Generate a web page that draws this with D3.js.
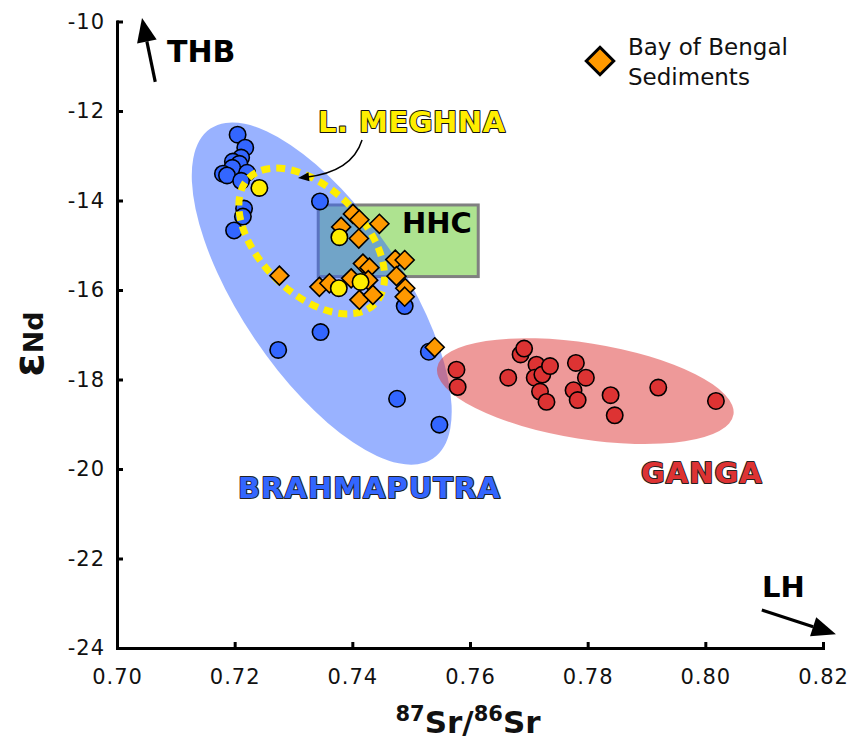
<!DOCTYPE html>
<html>
<head>
<meta charset="utf-8">
<script src="https://cdn.jsdelivr.net/npm/d3@7/dist/d3.min.js"></script>
<style>
  html, body { margin: 0; padding: 0; background: #fff; }
  svg { display: block; font-family: "DejaVu Sans", Verdana, sans-serif; }
</style>
</head>
<body>
<svg id="chart" width="851" height="742"></svg>
<script>
// ---- Data -----------------------------------------------------------------
// 87Sr/86Sr vs eNd for river and marine sediments

const xTicks = [0.70, 0.72, 0.74, 0.76, 0.78, 0.80, 0.82];
const yTicks = [-10, -12, -14, -16, -18, -20, -22, -24];

// Brahmaputra sediments [Sr, eNd]
const brahmaputra = [
  [0.7205, -12.53], [0.7218, -12.82], [0.7211, -13.04], [0.7197, -13.13],
  [0.7208, -13.18], [0.7196, -13.27], [0.7180, -13.40], [0.7187, -13.44],
  [0.7221, -13.38], [0.7211, -13.56], [0.7216, -14.18], [0.7214, -14.36],
  [0.7199, -14.67], [0.7345, -14.02], [0.7274, -17.34], [0.7346, -16.94],
  [0.7476, -18.43], [0.7548, -19.01], [0.7530, -17.38], [0.7489, -16.36]
];

// Ganga sediments
const ganga = [
  [0.7577, -17.78], [0.7579, -18.17], [0.7665, -17.96], [0.7686, -17.44],
  [0.7692, -17.31], [0.7713, -17.67], [0.7710, -17.96], [0.7723, -17.89],
  [0.7736, -17.70], [0.7719, -18.27], [0.7730, -18.50], [0.7780, -17.63],
  [0.7797, -17.96], [0.7776, -18.24], [0.7783, -18.46], [0.7839, -18.35],
  [0.7846, -18.80], [0.7920, -18.18], [0.8018, -18.48]
];

// Lower Meghna sediments
const meghna = [
  [0.7242, -13.72], [0.7378, -14.82], [0.7377, -15.96], [0.7414, -15.82]
];

// Bay of Bengal sediments
const bayOfBengal = [
  [0.7401, -14.30], [0.7412, -14.43], [0.7446, -14.52], [0.7381, -14.59],
  [0.7411, -14.85], [0.7276, -15.68], [0.7344, -15.93], [0.7361, -15.85],
  [0.7398, -15.74], [0.7418, -15.41], [0.7429, -15.50], [0.7427, -15.78],
  [0.7412, -16.22], [0.7435, -16.11], [0.7473, -15.32], [0.7489, -15.33],
  [0.7475, -15.69], [0.7490, -15.96], [0.7489, -16.15], [0.7540, -17.28]
];

// Higher Himalayan Crystallines field: [Sr min, Sr max], [eNd max, eNd min]
const hhcSr = [0.7342, 0.7614];
const hhcNd = [-14.1, -15.7];

// Field centres [Sr, eNd]
const brahmaputraCentre = [0.7348, -16.08];
const gangaCentre = [0.7796, -18.26];
const meghnaCentre = [0.7331, -14.905];

// ---- Layout ---------------------------------------------------------------
const svg = d3.select("#chart");
const x = d3.scaleLinear().domain([0.70, 0.82]).range([117, 823]);
const y = d3.scaleLinear().domain([-24, -10]).range([648, 21.5]);

const COLORS = {
  blue: "#3366ff", red: "#dd3333", yellow: "#ffee00", orange: "#ff9900",
  blueField: "#3366ff", redField: "#dd3333", hhc: "#aee390"
};

// ---- Fields ---------------------------------------------------------------
svg.append("rect")
  .attr("x", x(hhcSr[0])).attr("y", y(hhcNd[0]))
  .attr("width", x(hhcSr[1]) - x(hhcSr[0]))
  .attr("height", y(hhcNd[1]) - y(hhcNd[0]))
  .attr("fill", COLORS.hhc)
  .attr("stroke", "#808080").attr("stroke-width", 3);

function field(centre, rx, ry, angle) {
  return svg.append("ellipse")
    .attr("cx", 0).attr("cy", 0).attr("rx", rx).attr("ry", ry)
    .attr("transform", `translate(${x(centre[0])},${y(centre[1])}) rotate(${angle})`);
}

field(brahmaputraCentre, 199, 81, 56)
  .attr("fill", COLORS.blueField).attr("fill-opacity", 0.5);
field(gangaCentre, 150, 48, 9)
  .attr("fill", COLORS.redField).attr("fill-opacity", 0.5);

// ---- Points ---------------------------------------------------------------
function circles(data, color) {
  svg.append("g").selectAll("circle").data(data).join("circle")
    .attr("cx", d => x(d[0])).attr("cy", d => y(d[1])).attr("r", 8.2)
    .attr("fill", color).attr("stroke", "#000").attr("stroke-width", 1.6);
}

circles(brahmaputra, COLORS.blue);
circles(ganga, COLORS.red);

// Lower Meghna field (dashed)
field(meghnaCentre, 89, 52, 45)
  .attr("fill", "none").attr("stroke", COLORS.yellow)
  .attr("stroke-width", 7).attr("stroke-dasharray", "9 6");

const diamond = d3.symbol().type(d3.symbolDiamond2);
svg.append("g").selectAll("path").data(bayOfBengal).join("path")
  .attr("d", diamond.size(230)())
  .attr("transform", d => `translate(${x(d[0])},${y(d[1])})`)
  .attr("fill", COLORS.orange).attr("stroke", "#000").attr("stroke-width", 1.6);

circles(meghna, COLORS.yellow);

// ---- Axes -----------------------------------------------------------------
const yAxis = svg.append("g")
  .attr("transform", `translate(${x(0.70)},0)`)
  .call(d3.axisLeft(y).tickValues(yTicks).tickSize(-6).tickSizeOuter(0)
    .tickPadding(12).tickFormat(d => String(d)));
const xAxis = svg.append("g")
  .attr("transform", `translate(0,${y(-24)})`)
  .call(d3.axisBottom(x).tickValues(xTicks).tickSize(-6).tickSizeOuter(0)
    .tickPadding(21).tickFormat(d3.format(".2f")));

[yAxis, xAxis].forEach(g => {
  g.select(".domain").attr("stroke", "#000").attr("stroke-width", 3)
    .attr("stroke-linecap", "square");
  g.selectAll(".tick line").attr("stroke", "#000").attr("stroke-width", 3);
  g.selectAll(".tick text").attr("font-size", 21).attr("fill", "#111")
    .attr("letter-spacing", 1)
    .attr("font-family", "DejaVu Sans, sans-serif");
});

// Axis titles
const xt = svg.append("text")
  .attr("x", (x(0.70) + x(0.82)) / 2 - 2).attr("y", 733)
  .attr("text-anchor", "middle").attr("font-weight", "bold").attr("fill", "#111");
xt.append("tspan").text("87").attr("font-size", 21).attr("dy", -12);
xt.append("tspan").text("Sr/").attr("font-size", 31).attr("dy", 12);
xt.append("tspan").text("86").attr("font-size", 21).attr("dy", -12);
xt.append("tspan").text("Sr").attr("font-size", 31).attr("dy", 12);

const yt = svg.append("text")
  .attr("transform", "translate(43,344) rotate(-90)")
  .attr("text-anchor", "middle").attr("font-weight", "bold").attr("fill", "#111");
yt.append("tspan").text("ε").attr("font-size", 42);
yt.append("tspan").text("Nd").attr("font-size", 27);

// ---- Annotations ----------------------------------------------------------
function arrow(from, to, headLen, headHalf, width) {
  const x0 = x(from[0]), y0 = y(from[1]), x1 = x(to[0]), y1 = y(to[1]);
  const a = Math.atan2(y1 - y0, x1 - x0);
  const bx = x1 - headLen * Math.cos(a), by = y1 - headLen * Math.sin(a);
  svg.append("line").attr("x1", x0).attr("y1", y0).attr("x2", bx).attr("y2", by)
    .attr("stroke", "#000").attr("stroke-width", width);
  const nx = -Math.sin(a) * headHalf, ny = Math.cos(a) * headHalf;
  svg.append("path")
    .attr("d", `M${x1},${y1}L${bx + nx},${by + ny}L${bx - nx},${by - ny}Z`)
    .attr("fill", "#000");
}

arrow([0.7065, -11.35], [0.70425, -9.92], 24, 10, 3.2);
arrow([0.8096, -23.15], [0.8222, -23.69], 24, 10, 3.2);

function label(txt, pos, size, fill, outline, spacing) {
  const t = svg.append("text")
    .attr("x", x(pos[0])).attr("y", y(pos[1]))
    .attr("font-size", size).attr("font-weight", "bold")
    .attr("letter-spacing", spacing || 0)
    .attr("fill", fill).text(txt);
  if (outline) {
    t.attr("stroke", outline).attr("stroke-width", 2)
      .attr("paint-order", "stroke").attr("stroke-linejoin", "round");
  }
  return t;
}

label("THB", [0.7085, -10.905], 30, "#000");
label("LH", [0.80964, -22.86], 29, "#000");
label("HHC", [0.74844, -14.726], 29, "#000");
label("L. MEGHNA", [0.73417, -12.48], 29, COLORS.yellow, "#111", 0.5);
label("BRAHMAPUTRA", [0.72057, -20.648], 29, COLORS.blue, "#222", 1);
label("GANGA", [0.78907, -20.313], 29, COLORS.red, "#222", 1);

// Curved pointer from the Meghna label to its field
const cs = [x(0.74165), y(-12.648)], cc = [x(0.73995), y(-13.363)], ce = [x(0.73077), y(-13.497)];
svg.append("path")
  .attr("d", `M${cs[0]},${cs[1]}Q${cc[0]},${cc[1]} ${ce[0] + 8},${ce[1] - 0.8}`)
  .attr("fill", "none").attr("stroke", "#000").attr("stroke-width", 1.5);
{
  const a = Math.atan2(ce[1] - cc[1], ce[0] - cc[0]);
  const L = 11, hw = 4.5;
  const bx = ce[0] - L * Math.cos(a), by = ce[1] - L * Math.sin(a);
  const nx = -Math.sin(a) * hw, ny = Math.cos(a) * hw;
  svg.append("path")
    .attr("d", `M${ce[0]},${ce[1]}L${bx + nx},${by + ny}L${bx - nx},${by - ny}Z`)
    .attr("fill", "#000");
}

// ---- Legend ---------------------------------------------------------------
const legend = svg.append("g").attr("transform", "translate(600,61)");
legend.append("path")
  .attr("d", d3.symbol().type(d3.symbolDiamond2).size(480)())
  .attr("fill", COLORS.orange).attr("stroke", "#000").attr("stroke-width", 3);
legend.append("text").attr("x", 28).attr("y", -6)
  .attr("font-size", 23).attr("fill", "#111").text("Bay of Bengal");
legend.append("text").attr("x", 28).attr("y", 24)
  .attr("font-size", 23).attr("fill", "#111").text("Sediments");
</script>
</body>
</html>
